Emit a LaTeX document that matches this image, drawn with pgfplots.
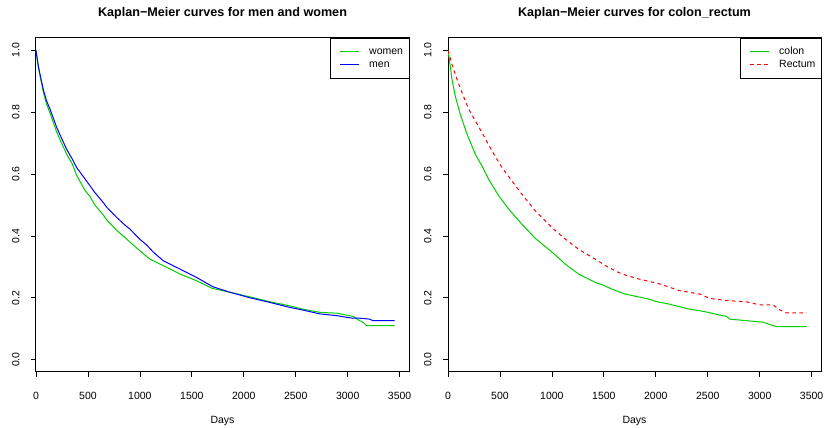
\documentclass[border=0pt]{standalone}
\usepackage{fontspec}
\setmainfont{Liberation Sans}
\usepackage{pgfplots}
\pgfplotsset{compat=1.18}

\newcommand\basefont{\fontsize{10.5bp}{12.6bp}\selectfont}
\newcommand\titlefont{\bfseries\fontsize{12.6bp}{15bp}\selectfont}

\definecolor{kmgreen}{HTML}{00CD00}
\definecolor{kmblue}{HTML}{0000FF}
\definecolor{kmred}{HTML}{FF0000}

\pgfplotsset{
  kmaxis/.style={
    scale only axis, width=373bp, height=334bp, anchor=south west,
    xmin=0, xmax=3590, ymin=-0.04, ymax=1.04,
    axis line style={line width=1bp, black},
    tick align=outside, xtick pos=left, ytick pos=left,
    major tick length=5bp,
    tick style={line width=0.75bp, black},
    xtick={0,500,1000,1500,2000,2500,3000,3500},
    ytick={0,0.2,0.4,0.6,0.8,1.0},
    scaled ticks=false,
    /pgf/number format/assume math mode=true,
    tick label style={font=\basefont},
    xticklabel style={yshift=-12bp, /pgf/number format/1000 sep={}},
    yticklabel style={xshift=-8bp, rotate=90, anchor=south,
      /pgf/number format/.cd, fixed, fixed zerofill, precision=1},
    title style={at={(rel axis cs:0.5,1)}, anchor=center, yshift=19bp, font=\titlefont},
    xlabel={Days},
    xlabel style={at={(rel axis cs:0.5,0)}, anchor=center, yshift=-49bp, font=\basefont},
  },
  km/.style={line width=1bp, mark=none},
}

\tikzset{
  keytext/.style={anchor=west, inner sep=0pt, text height=7.5bp,
    text depth=2.5bp, font=\basefont},
}

\begin{document}
\begin{tikzpicture}
\path[use as bounding box] (0bp,0bp) rectangle (824bp,428bp);

% Survival by sex
\begin{axis}[kmaxis, at={(36bp,56bp)},
  title={Kaplan−Meier curves for men and women}]
\addplot[km, draw=kmgreen] coordinates {
 (0,1.000) (22,0.949) (45,0.908) (70,0.866) (100,0.828) (135,0.797)
 (200,0.735) (295,0.664) (350,0.632) (391,0.596) (470,0.548) (520,0.527)
 (567,0.500) (647,0.468) (680,0.452) (776,0.418) (856,0.395) (904,0.380)
 (1000,0.352) (1050,0.338) (1096,0.325) (1224,0.304) (1385,0.277)
 (1545,0.255) (1700,0.230) (1865,0.218) (2058,0.203) (2250,0.187)
 (2442,0.174) (2571,0.163) (2731,0.153) (2900,0.150) (2987,0.144)
 (3050,0.140) (3115,0.126) (3147,0.121) (3180,0.110) (3452,0.110)
};
\addplot[km, draw=kmblue] coordinates {
 (0,1.000) (22,0.949) (45,0.912) (70,0.874) (100,0.838) (135,0.810)
 (200,0.750) (295,0.680) (350,0.648) (391,0.621) (470,0.585) (520,0.562)
 (567,0.540) (647,0.508) (680,0.493) (776,0.460) (856,0.435) (904,0.422)
 (1000,0.389) (1064,0.371) (1128,0.348) (1224,0.320) (1385,0.293)
 (1545,0.266) (1700,0.236) (1865,0.218) (2058,0.200) (2250,0.185)
 (2442,0.169) (2571,0.160) (2731,0.148) (2900,0.142) (2987,0.137)
 (3050,0.134) (3115,0.134) (3212,0.131) (3243,0.126) (3452,0.126)
};
\end{axis}

% key for the left panel
\draw[fill=white, line width=0.75bp] (330bp,350bp) rectangle (409bp,390bp);
\draw[white, line width=0.1bp] (332bp,352bp) -- (332.1bp,352bp);
\draw[kmblue, line width=1bp] (340bp,363bp) -- (359bp,363bp);
\draw[kmgreen, line width=1bp] (340bp,376bp) -- (359bp,376bp);
\fill[kmgreen] (340bp,375.5bp) rectangle (359bp,376.5bp);
\node[keytext] at (369bp,376bp) {women};
\node[keytext] at (369bp,363bp) {men};

% Survival by tumour site
\begin{axis}[kmaxis, at={(448bp,56bp)},
  title={Kaplan−Meier curves for colon\_rectum}]
\addplot[km, draw=kmgreen] coordinates {
 (0,1.000) (22,0.949) (38,0.906) (70,0.852) (118,0.793) (183,0.729)
 (263,0.664) (327,0.626) (391,0.583) (487,0.530) (583,0.487) (711,0.438)
 (840,0.392) (1000,0.348) (1128,0.309) (1256,0.277) (1416,0.250)
 (1500,0.240) (1577,0.228) (1705,0.212) (1930,0.196) (2000,0.188)
 (2122,0.180) (2314,0.164) (2423,0.158) (2500,0.153) (2615,0.144)
 (2680,0.140) (2712,0.131) (2871,0.126) (3032,0.121) (3128,0.110)
 (3160,0.107) (3452,0.107)
};
\addplot[km, draw=kmred, dash pattern=on 3.5bp off 3.5bp] coordinates {
 (0,1.000) (38,0.955) (87,0.906) (135,0.863) (199,0.810) (263,0.772)
 (327,0.734) (423,0.675) (519,0.621) (615,0.578) (711,0.535) (840,0.481)
 (1000,0.427) (1128,0.390) (1256,0.357) (1416,0.325) (1545,0.298)
 (1673,0.277) (1833,0.261) (2026,0.246) (2231,0.223) (2423,0.212)
 (2519,0.198) (2679,0.191) (2871,0.187) (3000,0.177) (3128,0.177)
 (3192,0.161) (3256,0.151) (3452,0.151)
};
\end{axis}

% key for the right panel
\draw[fill=white, line width=0.75bp] (740bp,350bp) rectangle (821bp,390bp);
\draw[white, line width=0.1bp] (742bp,352bp) -- (742.1bp,352bp);
\draw[kmred, line width=1bp, dash pattern=on 3.5bp off 3.5bp] (750bp,363bp) -- (769bp,363bp);
\draw[kmgreen, line width=1bp] (750bp,376bp) -- (769bp,376bp);
\fill[kmgreen] (750bp,375.5bp) rectangle (769bp,376.5bp);
\node[keytext] at (779bp,376bp) {colon};
\node[keytext] at (779bp,363bp) {Rectum};
\end{tikzpicture}
\end{document}
